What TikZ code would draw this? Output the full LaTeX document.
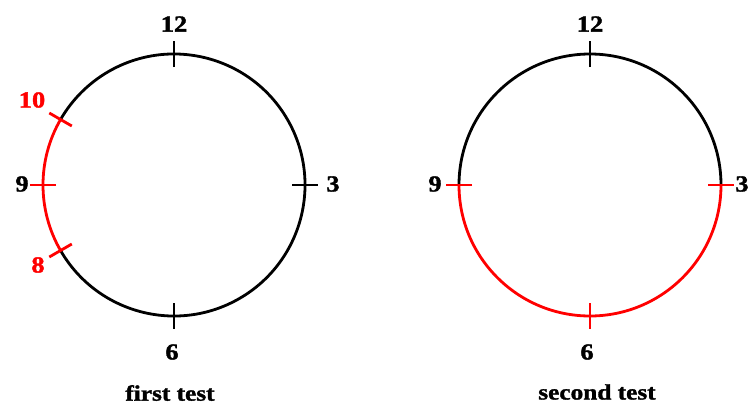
\documentclass[tikz,border=0pt]{standalone}
\usepackage{fontspec}
\setmainfont[FakeStretch=1.15, BoldFeatures={FakeBold=1.5}]{Liberation Serif}
\usetikzlibrary{positioning,calc}

\begin{document}
\begin{tikzpicture}[
    x=1pt, y=1pt,
    rim/.style={line width=2.8pt},
    tickmark/.style={line width=2.8pt},
    hour/.style={font=\fontsize{23}{25}\selectfont\bfseries, inner sep=0pt},
    caption/.style={font=\fontsize{22}{24}\selectfont\bfseries, inner sep=0pt}
]
    \useasboundingbox (0,0) rectangle (751,408);
    \coordinate (first) at (174,223);
    \coordinate (second) at (590,223);

    % first test
    \draw[rim] ($(first)+(-150:131)$) arc (-150:150:131);
    \draw[rim, red] ($(first)+(150:131)$) arc (150:210:131);
    \foreach \a/\c in {90/black,0/black,270/black,180/red,150/red,210/red}
        \draw[tickmark, \c] ($(first)+(\a:118)$) -- ($(first)+(\a:144)$);

    \node[hour] (first12) at (174,384) {12};
    \node[hour] (first3) at (333,224) {3};
    \node[hour] (first6) at (172,56) {6};
    \node[hour] (first9) at (22,224) {9};
    \node[hour, red] (first10) at (32,308) {10};
    \node[hour, red] (first8) at (38,143) {8};
    \node[caption] (firstcap) at (170,15) {first test};

    % second test
    \draw[rim] ($(second)+(0:131)$) arc (0:180:131);
    \draw[rim, red] ($(second)+(180:131)$) arc (180:360:131);
    \foreach \a/\c in {90/black,0/red,270/red,180/red}
        \draw[tickmark, \c] ($(second)+(\a:118)$) -- ($(second)+(\a:144)$);

    \node[hour] (second12) at (590,384) {12};
    \node[hour] (second3) at (742,224) {3};
    \node[hour] (second6) at (587,56) {6};
    \node[hour] (second9) at (435,224) {9};
    \node[caption] (secondcap) at (597,16) {second test};
\end{tikzpicture}
\end{document}
